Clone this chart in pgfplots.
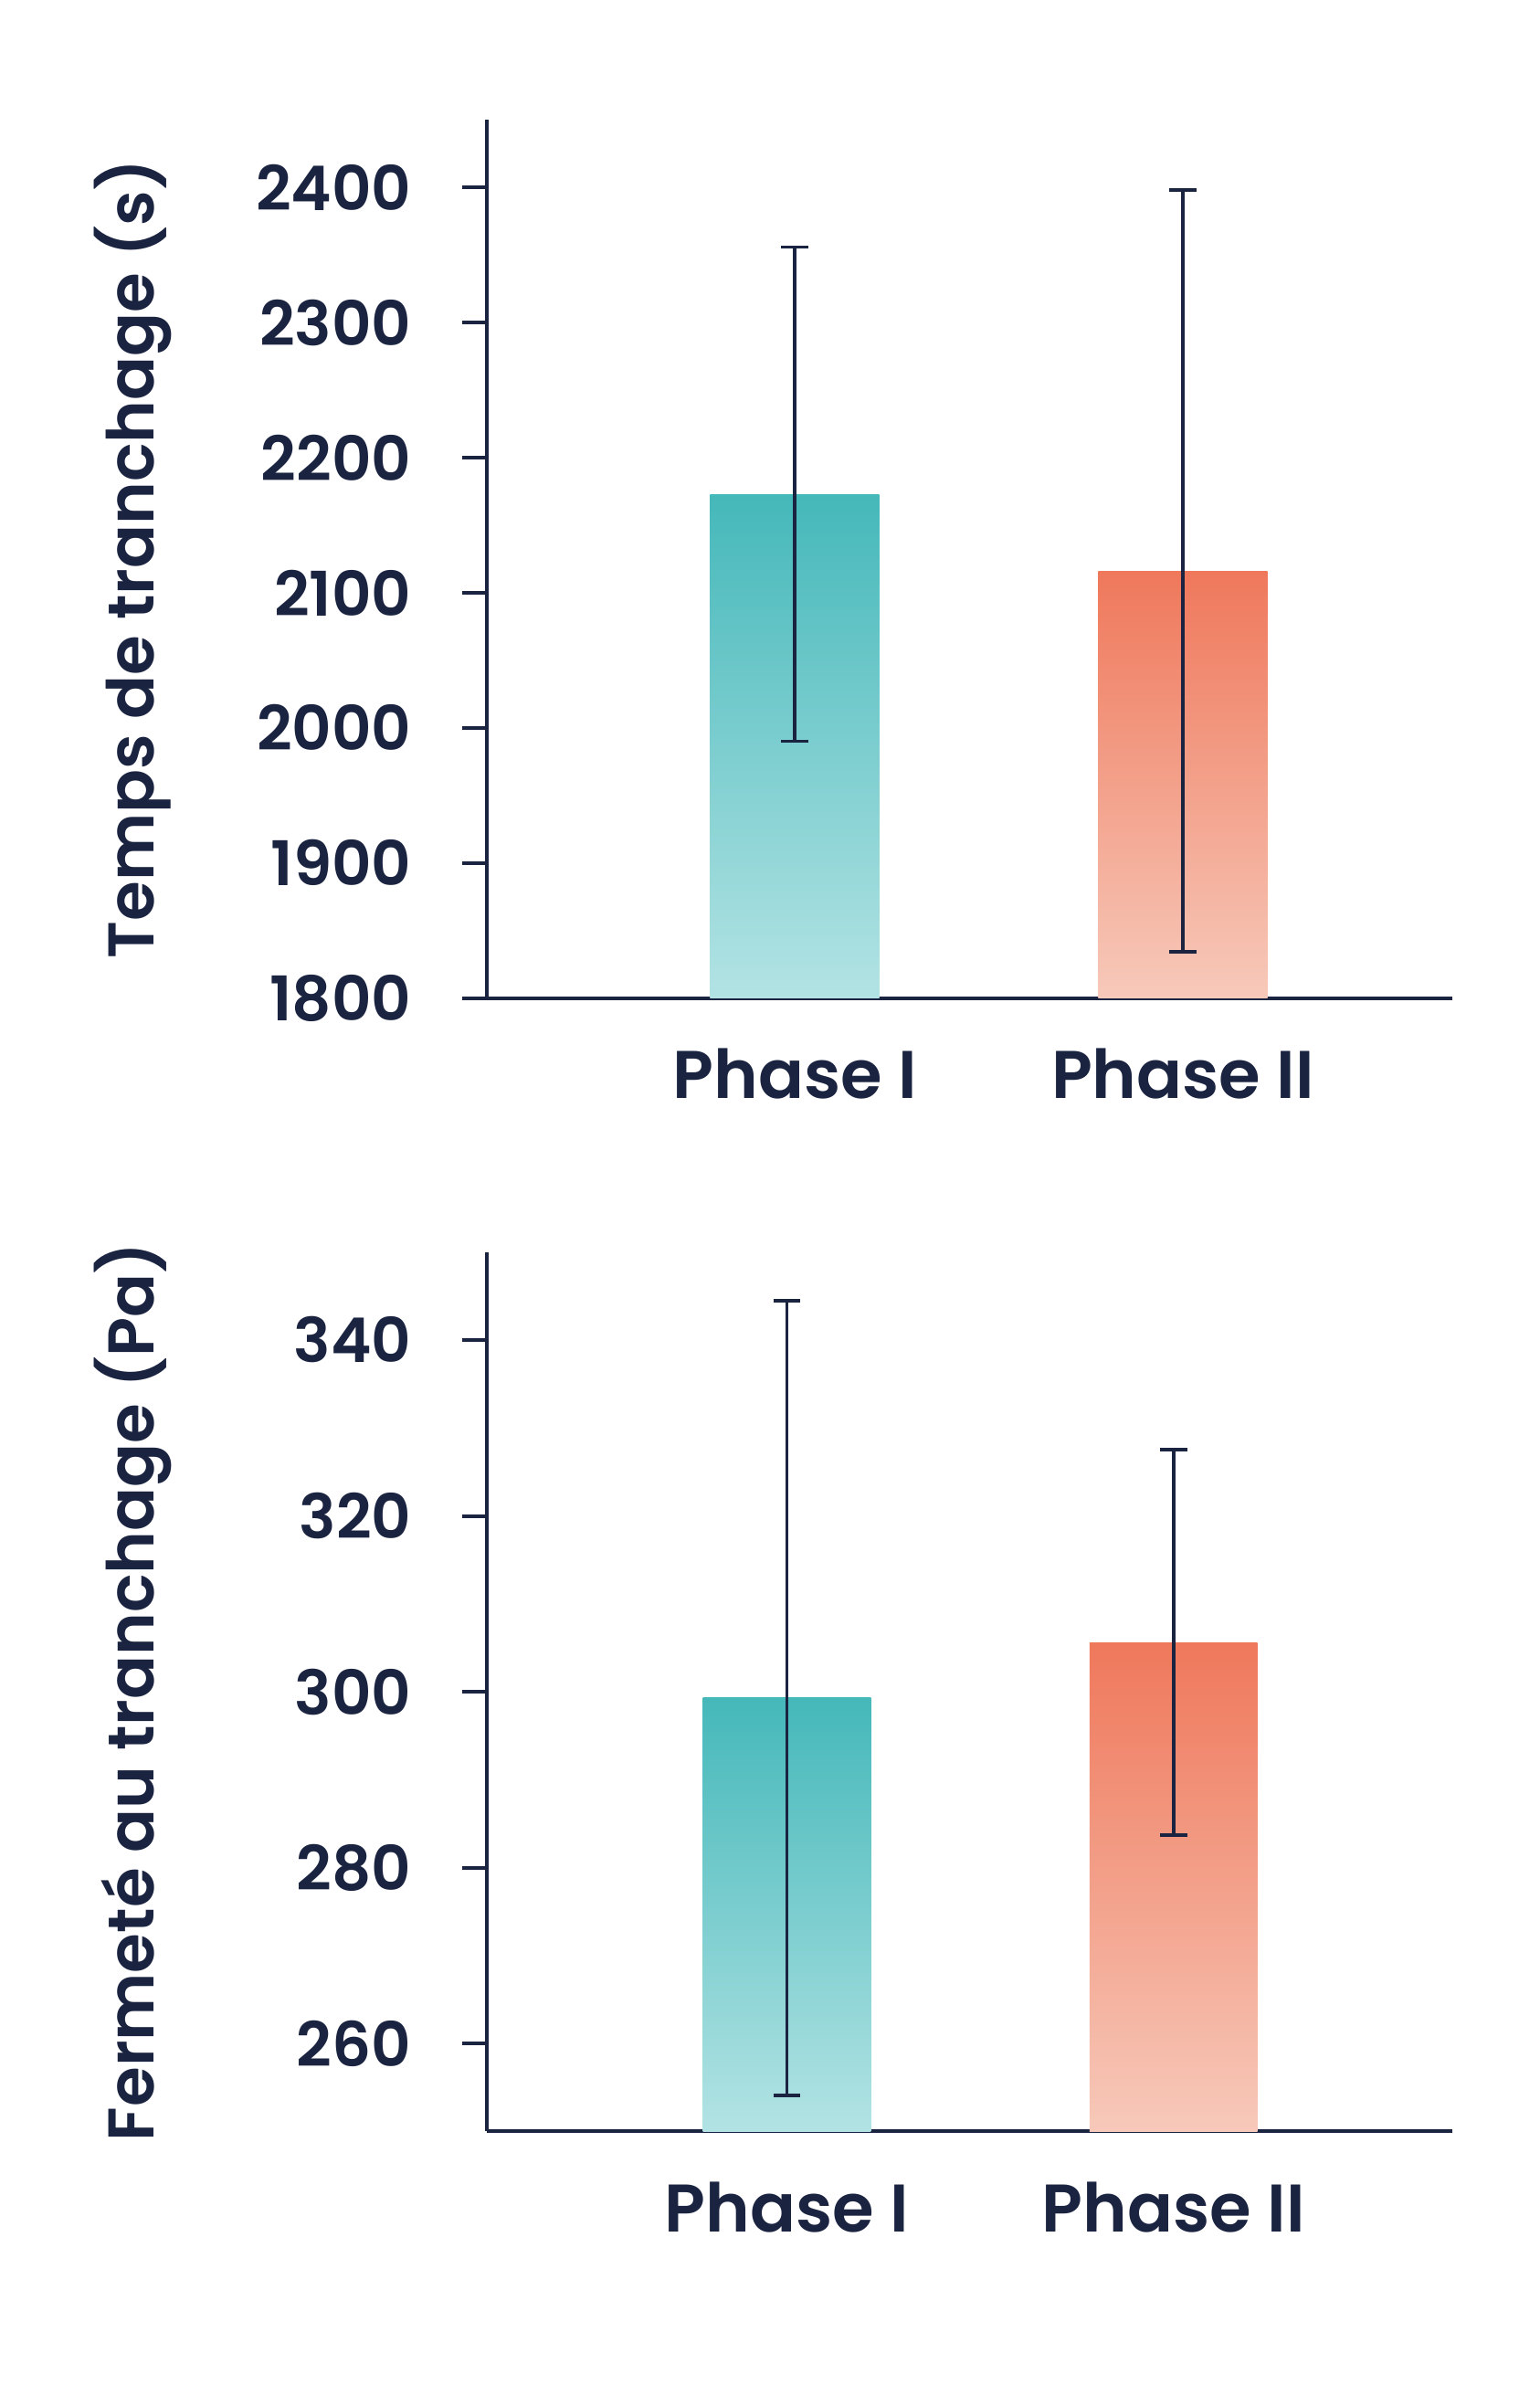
\documentclass[border=0pt]{standalone}
\usepackage{fontspec}
\setmainfont{Poppins}[BoldFont={Poppins SemiBold}]
\usepackage{pgfplots}
\pgfplotsset{compat=1.18}
\definecolor{navy}{HTML}{1A2340}
\definecolor{tealA}{HTML}{45B8BA}
\definecolor{tealB}{HTML}{B3E3E4}
\definecolor{coralA}{HTML}{EF785B}
\definecolor{coralB}{HTML}{F7C9BA}
\pgfplotsset{
  myaxis/.style={
    scale only axis,
    anchor=south west,
    width=250.8pt,
    axis x line*=bottom,
    axis y line*=left,
    axis line style={-, navy, line width=0.95pt},
    xtick={0,1},
    xticklabels={Phase I, Phase II},
    xtick style={draw=none},
    ytick style={navy, line width=0.95pt},
    tick align=outside,
    major tick length=6.4pt,
    /pgf/number format/assume math mode=true,
    /pgf/number format/1000 sep={},
    yticklabel style={font=\fontsize{16}{16}\selectfont\bfseries, text=navy, anchor=east, xshift=-9.6pt},
    xticklabel style={font=\fontsize{17.5}{17.5}\selectfont\bfseries, text=navy, anchor=base, yshift=-19.8pt},
    ylabel style={font=\fontsize{16.8}{16.8}\selectfont\bfseries, text=navy, at={(axis description cs:-0.3445,0.5)}, anchor=base},
    errb/.style={navy, mark=none, forget plot,
      error bars/.cd, y dir=both, y explicit,
      error bar style={navy, line width=0.9pt},
      error mark options={rotate=90, mark size=3.5pt, line width=0.9pt, navy}},
  }
}
\begin{document}
\begin{tikzpicture}
\path[use as bounding box] (0pt,0pt) rectangle (400pt,624.92pt);
% ---------- top chart ----------
\begin{axis}[myaxis,
  at={(126.4pt,365.72pt)},
  height=228pt,
  xmin=-0.794, xmax=1.694,
  ymin=1800, ymax=2450,
  ytick={1800,1900,2000,2100,2200,2300,2400},
  ylabel={Temps de tranchage (s)},
]
\addplot[draw=none, top color=tealA, bottom color=tealB] coordinates {(-0.218,1800) (-0.218,2173) (0.218,2173) (0.218,1800)} -- cycle;
\addplot[draw=none, top color=coralA, bottom color=coralB] coordinates {(0.782,1800) (0.782,2116) (1.218,2116) (1.218,1800)} -- cycle;
\addplot[errb] coordinates {(0,2173) +- (0,183)};
\addplot[errb] coordinates {(1,2116) +- (0,282)};
\end{axis}
% ---------- bottom chart ----------
\begin{axis}[myaxis,
  at={(126.4pt,71.32pt)},
  height=228.4pt,
  xmin=-0.777, xmax=1.721,
  ymin=250, ymax=350,
  ytick={260,280,300,320,340},
  ylabel={Fermeté au tranchage (Pa)},
]
\addplot[draw=none, top color=tealA, bottom color=tealB] coordinates {(-0.217,250) (-0.217,299.3) (0.217,299.3) (0.217,250)} -- cycle;
\addplot[draw=none, top color=coralA, bottom color=coralB] coordinates {(0.783,250) (0.783,305.6) (1.217,305.6) (1.217,250)} -- cycle;
\addplot[errb] coordinates {(0,299.3) +- (0,45.2)};
\addplot[errb] coordinates {(1,305.6) +- (0,21.9)};
\end{axis}
\end{tikzpicture}
\end{document}
